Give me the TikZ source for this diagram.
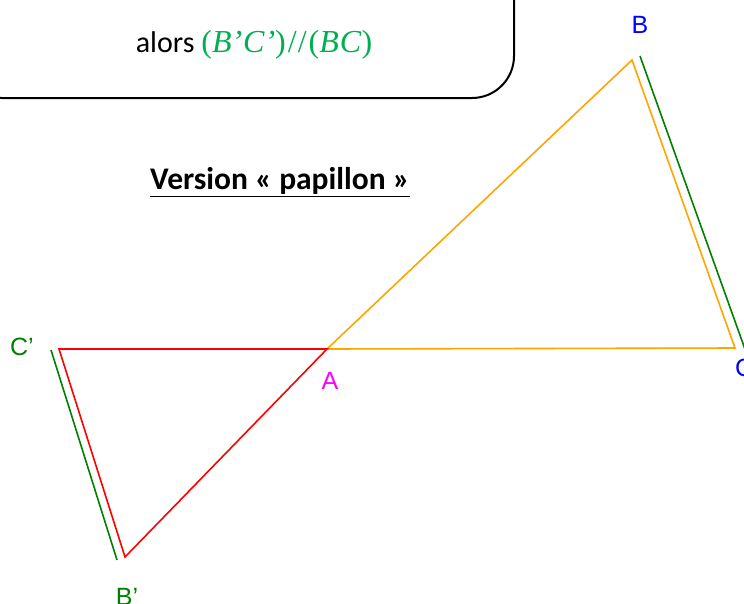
\documentclass[tikz,border=0pt]{standalone}
\usepackage{fontspec}
\setmainfont{Carlito}
\newfontfamily\arialf{Liberation Sans}
\newfontfamily\serf{Liberation Serif}
\usepackage{xcolor}
\definecolor{orng}{RGB}{255,165,0}
\definecolor{grn}{RGB}{0,128,0}
\definecolor{mgreen}{RGB}{0,176,80}
\definecolor{blu}{RGB}{0,0,255}
\definecolor{mag}{RGB}{255,0,255}
\begin{document}
\begin{tikzpicture}[x=1pt,y=-1pt,
  seg/.style={line width=1.6pt},
  lbl/.style={font=\arialf\fontsize{25}{30}\selectfont, inner sep=0pt}]
\useasboundingbox (0,0) rectangle (744,603);
\begin{scope}
\clip (0,0) rectangle (744,603);
% box
\draw[line width=2pt, rounded corners=42pt] (-40,-60) rectangle (514,98);
\node[font=\fontsize{30}{36}\selectfont, inner sep=0pt] (concl) at (254,45)
  {alors \textcolor{mgreen}{\serf\fontsize{32}{36}\selectfont(\textit{B’\kern1pt C’})\kern2pt/\kern1pt/\kern2pt(\textit{B\kern1pt C})}};
\node[font=\bfseries\fontsize{31.5}{36}\selectfont, inner sep=0pt] (title) at (280,182)
  {\underline{Version « papillon »}};
% points
\coordinate (A) at (327,349);
\coordinate (B) at (632,60);
\coordinate (C) at (735,348);
\coordinate (Cp) at (59,349);
\coordinate (Bp) at (125,557);
\coordinate (g1) at (640,56);
\coordinate (g2) at (746,352);
\coordinate (g3) at (51,350);
\coordinate (g4) at (117,560);
\draw[seg, orng] (A) -- (B) -- (C) -- cycle;
\draw[seg, red] (A) -- (Cp) -- (Bp) -- cycle;
\draw[seg, grn] (g1) -- (g2);
\draw[seg, grn] (g3) -- (g4);
% labels
\node[lbl, blu] (lB) at (640,25) {B};
\node[lbl, blu, anchor=west] (lC) at (735,368) {C};
\node[lbl, mag] (lA) at (330,381) {A};
\node[lbl, grn] (lCp) at (22,347) {C’};
\node[lbl, grn] (lBp) at (127,597) {B’};
\end{scope}
\end{tikzpicture}
\end{document}
